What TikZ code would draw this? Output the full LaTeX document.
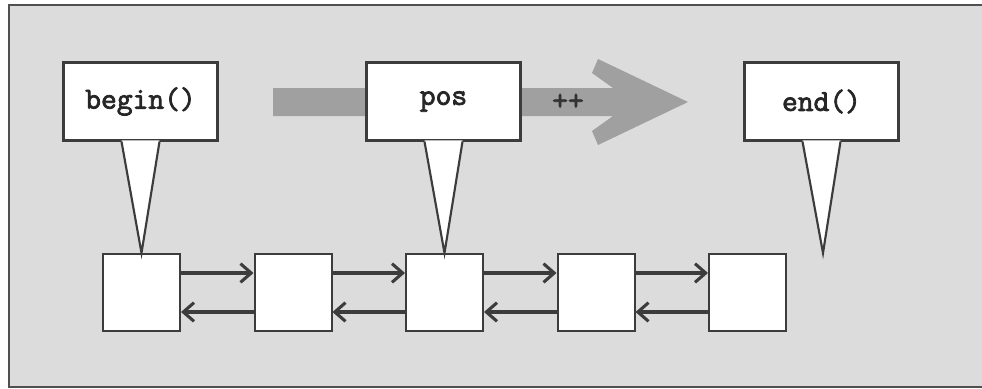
\documentclass[tikz,border=0pt]{standalone}
\usepackage{fontspec}
\newfontfamily\codefont{Latin Modern Mono}[FakeBold=2.5]
\usetikzlibrary{arrows.meta,calc}
\definecolor{bg}{HTML}{DCDCDC}
\definecolor{ink}{HTML}{3C3C3C}
\definecolor{bigarrow}{HTML}{A0A0A0}
\tikzset{
  codetext/.style={font=\codefont\bfseries\fontsize{23}{26}\selectfont, text=black!85},
  callout/.style={draw=ink, line width=1.6pt, fill=white, minimum width=115.5pt, minimum height=58.5pt, inner sep=0pt, codetext},
  elem/.style={draw=ink, line width=1.5pt, fill=white, minimum width=57.75pt, minimum height=57.75pt, inner sep=0pt},
  link/.style={draw=ink, line width=2.3pt, -{Straight Barb[length=8pt,width=14pt]}},
  pointer/.style={draw=ink, line width=1.6pt, line join=miter},
}
\begin{document}
\begin{tikzpicture}[x=0.75pt,y=-0.75pt]
\useasboundingbox (0,0) rectangle (982,389);
\fill[white] (0,0) rectangle (982,389);
\draw[draw=ink!90, line width=1.5pt, fill=bg] (9,5) rectangle (995,387);

% big grey arrow
\fill[bigarrow] (273,88) -- (613,88) -- (592,73) -- (598,59) -- (688,102) -- (598,145) -- (592,131) -- (613,116) -- (273,116) -- cycle;

% list elements
\node[elem] (e1) at (141.5,292.5) {};
\node[elem] (e2) at (293,292.5) {};
\node[elem] (e3) at (444.5,292.5) {};
\node[elem] (e4) at (596,292.5) {};
\node[elem] (e5) at (747.5,292.5) {};

\foreach \a/\b in {e1/e2,e2/e3,e3/e4,e4/e5}{
  \draw[link, line width=2.3pt] ($(\a.east)+(0,-19.5)$) -- ($(\b.west)+(0,-19.5)$);
  \draw[link, line width=2.3pt] ($(\b.west)+(0,19.5)$) -- ($(\a.east)+(0,19.5)$);
}

% callouts
\node[callout] (cb) at (140.5,101.5) {begin()};
\node[callout] (cp) at (443.5,101.5) {pos};
\node[callout] (ce) at (821.5,101.5) {end()};
\coordinate (endtip) at (823,253);

\node[codetext, text=black!80] (pp) at (568,102) {++};

\foreach \c/\t in {cb/e1.north, cp/e3.north, ce/endtip}{
  \fill[white] ($(\c.south)+(-19,-1.2)$) -- ($(\c.south)+(19,-1.2)$) -- (\t) -- cycle;
  \draw[pointer] ($(\c.south)+(-19,0)$) -- (\t) -- ($(\c.south)+(19,0)$);
}
\end{tikzpicture}
\end{document}
